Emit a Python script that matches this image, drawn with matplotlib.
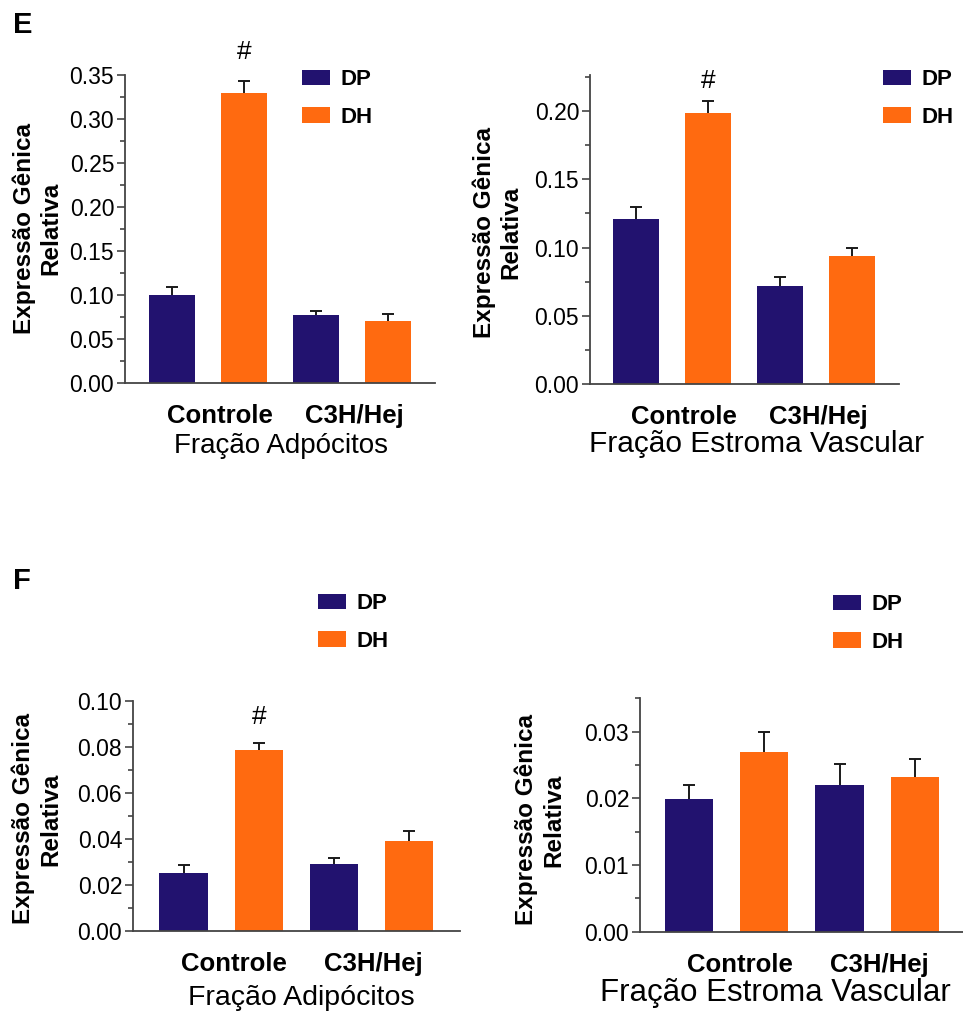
import matplotlib
matplotlib.use('Agg')
import matplotlib.pyplot as plt
from matplotlib.patches import Patch
from matplotlib.ticker import MultipleLocator, FormatStrFormatter

plt.rcParams['font.family'] = ['Liberation Sans', 'DejaVu Sans']

# data
groups = ['Controle', 'C3H/Hej']
series = ['DP', 'DH']

e_adipo_dp = [0.100, 0.077]
e_adipo_dh = [0.329, 0.0705]
e_adipo_dp_err = [0.009, 0.005]
e_adipo_dh_err = [0.014, 0.0075]

e_svf_dp = [0.121, 0.0716]
e_svf_dh = [0.199, 0.0938]
e_svf_dp_err = [0.0084, 0.0068]
e_svf_dh_err = [0.0086, 0.0058]

f_adipo_dp = [0.025, 0.0289]
f_adipo_dh = [0.0786, 0.0391]
f_adipo_dp_err = [0.0036, 0.0029]
f_adipo_dh_err = [0.0029, 0.0044]

f_svf_dp = [0.0199, 0.022]
f_svf_dh = [0.0269, 0.0232]
f_svf_dp_err = [0.0021, 0.0032]
f_svf_dh_err = [0.0030, 0.0027]

# '#' marks: (group index, y position)
e_adipo_sig = [(0, 0.3756)]
e_svf_sig = [(0, 0.222)]
f_adipo_sig = [(0, 0.0927)]
f_svf_sig = []

NAVY = '#22126f'
ORANGE = '#ff6a10'
W, H = 963, 1013

fig = plt.figure(figsize=(W / 100, H / 100), dpi=100)


def rect(x0, y0, x1, y1):
    return [x0 / W, 1 - y1 / H, (x1 - x0) / W, (y1 - y0) / H]


def panel(box, dp, dh, dp_err, dh_err, sig, ytop, major, minor, xlim,
          xlab, xlab_size, xlab_pos, ylab_pos, legend_pos):
    ax = fig.add_axes(rect(*box))
    xdp = [0, 2]
    xdh = [1, 3]
    ekw = dict(ecolor='#1a1a1a', elinewidth=1.4, capsize=4.3, capthick=1.4)
    for xs, vals, errs, col, lab in [(xdp, dp, dp_err, NAVY, 'DP'),
                                     (xdh, dh, dh_err, ORANGE, 'DH')]:
        bars = ax.bar(xs, vals, width=0.64, color=col, yerr=[[0, 0], errs],
                      error_kw=ekw, label=lab, zorder=2)
        # only the upper cap, like the original
        bars.errorbar.lines[1][0].set_visible(False)
    for gi, y in sig:
        ax.text(xdh[gi], y, '#', ha='center', va='center', fontsize=19)

    ax.set_xlim(*xlim)
    ax.set_ylim(0, ytop)
    ax.yaxis.set_major_locator(MultipleLocator(major))
    ax.yaxis.set_minor_locator(MultipleLocator(minor))
    ax.yaxis.set_major_formatter(FormatStrFormatter('%.2f'))
    ax.spines['top'].set_visible(False)
    ax.spines['right'].set_visible(False)
    for s in ['left', 'bottom']:
        ax.spines[s].set_color('#444444')
        ax.spines[s].set_linewidth(1.3)
    ax.tick_params(axis='y', which='major', length=5.8, width=1.2,
                   color='#444444', labelsize=16.5, pad=2)
    ax.tick_params(axis='y', which='minor', length=3.6, width=1.2,
                   color='#444444')
    ax.set_xticks([0.67, 2.53])
    ax.set_xticklabels(groups, fontsize=18.5, fontweight='bold')
    ax.tick_params(axis='x', length=0, pad=15)

    ax.set_xlabel(xlab, fontsize=xlab_size)
    ax.xaxis.label.set_va('baseline')
    ax.xaxis.set_label_coords(*xlab_pos)
    ax.set_ylabel('Expressão Gênica\nRelativa', fontsize=17.5, fontweight='bold')
    ax.yaxis.label.set_va('center')
    ax.yaxis.set_label_coords(*ylab_pos)

    handles = [Patch(facecolor=NAVY, label='DP'), Patch(facecolor=ORANGE, label='DH')]
    ax.legend(handles=handles, loc='upper left',
              bbox_to_anchor=(legend_pos[0] / W, 1 - legend_pos[1] / H),
              bbox_transform=fig.transFigure, frameon=False,
              prop={'weight': 'bold', 'size': 16}, borderpad=0,
              borderaxespad=0, handlelength=1.25, handleheight=0.68,
              handletextpad=0.5, labelspacing=0.75)
    return ax


panel((125, 75, 435, 383), e_adipo_dp, e_adipo_dh, e_adipo_dp_err, e_adipo_dh_err,
      e_adipo_sig, 0.35, 0.05, 0.025, (-0.653, 3.653),
      'Fração Adpócitos', 20, (0.503, -0.227), (-0.283, 0.503), (302, 69))
panel((590, 75, 899, 384), e_svf_dp, e_svf_dh, e_svf_dp_err, e_svf_dh_err,
      e_svf_sig, 0.2265, 0.05, 0.025, (-0.639, 3.653),
      'Fração Estroma Vascular', 21.5, (0.539, -0.220), (-0.30, 0.49), (883, 69))
panel((133, 700.7, 460, 930.7), f_adipo_dp, f_adipo_dh, f_adipo_dp_err, f_adipo_dh_err,
      f_adipo_sig, 0.10, 0.02, 0.01, (-0.672, 3.677),
      'Fração Adipócitos', 20.5, (0.514, -0.323), (-0.294, 0.486), (318, 593))
panel((640, 698.3, 963, 931.7), f_svf_dp, f_svf_dh, f_svf_dp_err, f_svf_dh_err,
      f_svf_sig, 0.035, 0.01, 0.005, (-0.652, 3.64),
      'Fração Estroma Vascular', 22.5, (0.418, -0.297), (-0.31, 0.479), (833, 594))

fig.text(13 / W, 1 - 33 / H, 'E', fontsize=21, fontweight='bold', va='baseline')
fig.text(13 / W, 1 - 589 / H, 'F', fontsize=21, fontweight='bold', va='baseline')

fig.savefig('out.png', dpi=100)
